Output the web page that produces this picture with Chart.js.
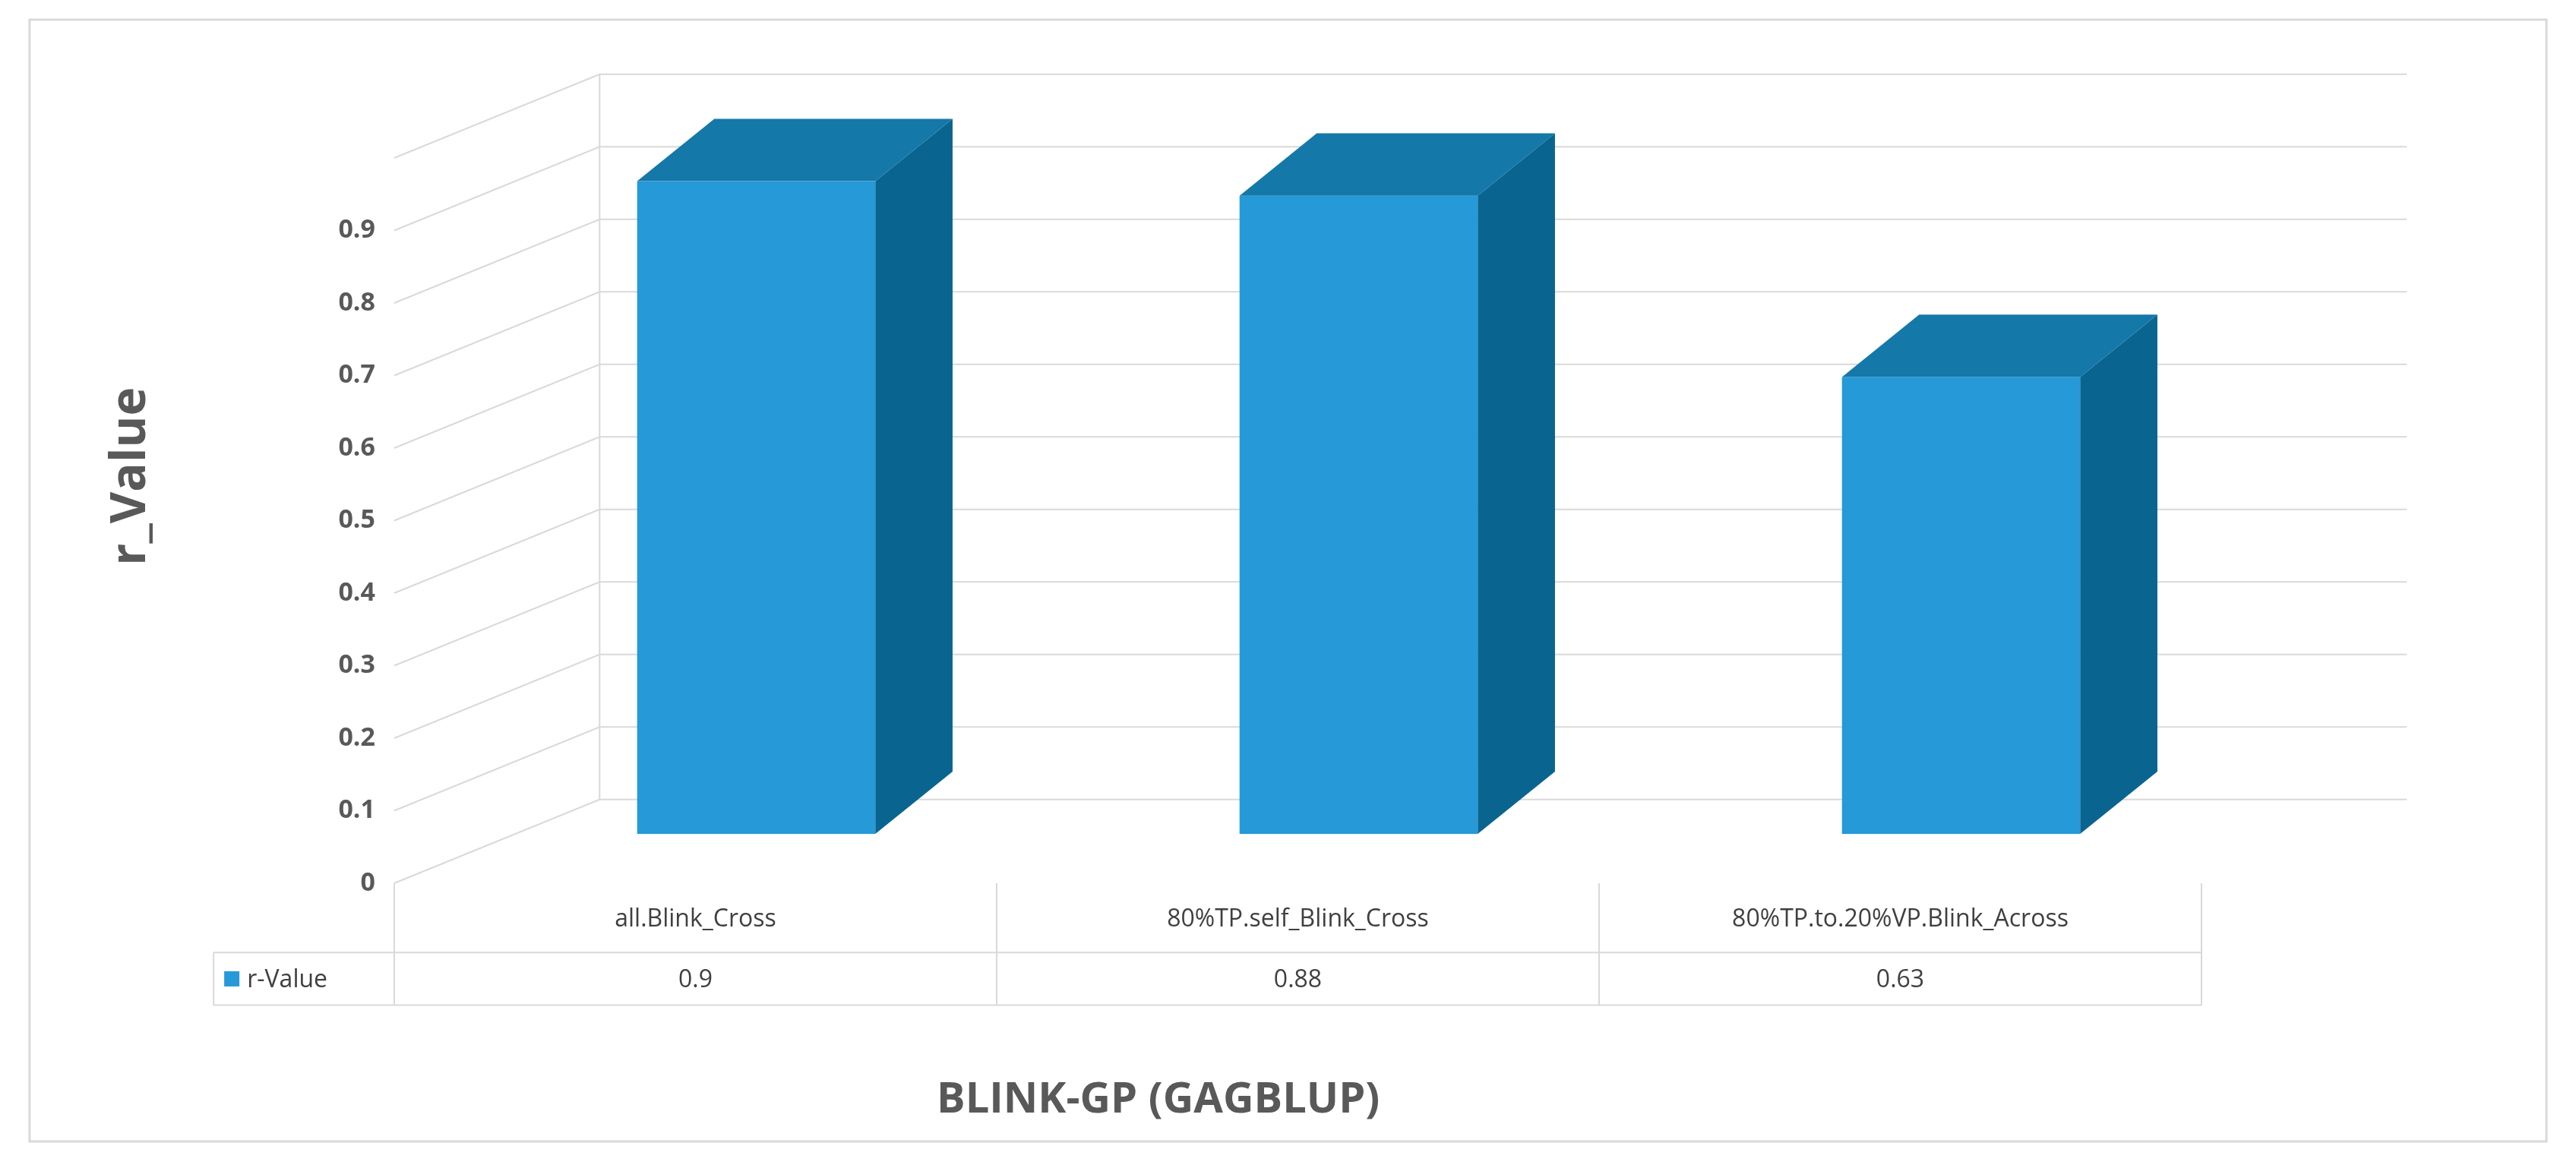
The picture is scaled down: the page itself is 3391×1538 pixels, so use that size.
<!DOCTYPE html>
<html><head><meta charset="utf-8">
<script src="https://cdn.jsdelivr.net/npm/chart.js@4/dist/chart.umd.min.js"></script>
<style>html,body{margin:0;padding:0;background:#fff}canvas{display:block}</style>
</head><body>
<canvas id="c" width="3391" height="1538"></canvas>
<script>
const categories = ["all.Blink_Cross", "80%TP.self_Blink_Cross", "80%TP.to.20%VP.Blink_Across"];
const rValues = [0.9, 0.88, 0.63];
const yTicks = [0,0.1,0.2,0.3,0.4,0.5,0.6,0.7,0.8,0.9];
const seriesName = "r-Value";
const valueLabels = ["0.9", "0.88", "0.63"];

const S = 3391/1568;
const FONT = '"Open Sans", "Liberation Sans", sans-serif';
const plugin = {
  id: 'excel3d',
  beforeDatasetsDraw(chart) {
    const ctx = chart.ctx, xs = chart.scales.x, ys = chart.scales.y, ca = chart.chartArea;
    const bx = 125*S, by = 51*S;
    ctx.save();
    ctx.strokeStyle = '#d9d9d9'; ctx.lineWidth = 2;
    for (let i = 0; i <= 10; i++) {
      const v = i/10, y = ys.getPixelForValue(v);
      ctx.beginPath();
      ctx.moveTo(ca.left, y); ctx.lineTo(ca.left+bx, y-by); ctx.lineTo(ca.right+bx*0.25+ (bx*0.75), y-by);
      ctx.stroke();
    }
    ctx.beginPath(); ctx.moveTo(ca.left+bx, ys.getPixelForValue(0)-by); ctx.lineTo(ca.left+bx, ys.getPixelForValue(1)-by); ctx.stroke();
    // y tick labels
    ctx.fillStyle = '#595959'; ctx.font = 'bold 34px '+FONT; ctx.textAlign='right'; ctx.textBaseline='middle';
    yTicks.forEach(t => ctx.fillText(String(t), ca.left-25, ys.getPixelForValue(t)));
    // data table
    const top = ca.bottom, mid = 580*S, bot = 612*S, leftCell = 130*S;
    ctx.strokeStyle = '#d9d9d9';
    ctx.beginPath();
    const bounds = [ca.left];
    categories.forEach((c,i)=>bounds.push(ca.left + (ca.right-ca.left)*(i+1)/categories.length));
    bounds.forEach(x=>{ctx.moveTo(x, top); ctx.lineTo(x, bot);});
    ctx.moveTo(leftCell, mid); ctx.lineTo(ca.right, mid);
    ctx.moveTo(leftCell, bot); ctx.lineTo(ca.right, bot);
    ctx.moveTo(leftCell, mid); ctx.lineTo(leftCell, bot);
    ctx.stroke();
    ctx.fillStyle = '#404040'; ctx.textAlign='center'; ctx.font = '32px '+FONT;
    categories.forEach((c,i)=>{
      const x = xs.getPixelForValue(i);
      ctx.fillText(c, x, (top+mid)/2+2);
      ctx.fillText(valueLabels[i], x, (mid+bot)/2+2);
    });
    ctx.fillStyle = '#2699D8'; ctx.fillRect(leftCell+14, (mid+bot)/2-10, 20, 20);
    ctx.fillStyle = '#404040'; ctx.textAlign='left'; ctx.fillText(seriesName, leftCell+44, (mid+bot)/2+2);
    // titles
    ctx.fillStyle = '#595959'; ctx.font = 'bold 56px '+FONT; ctx.textAlign='center';
    ctx.fillText('BLINK-GP (GAGBLUP)', 705*S, 670*S);
    ctx.save(); ctx.translate(80*S, 290*S); ctx.rotate(-Math.PI/2);
    ctx.font = 'bold 64px '+FONT; ctx.fillText('r_Value', 0, 0); ctx.restore();
    // border
    ctx.strokeStyle = '#d9d9d9'; ctx.lineWidth = 3; ctx.strokeRect(18*S, 12*S, 1532*S, 683*S);
    ctx.restore();
  },
  afterDatasetsDraw(chart) {
    const ctx = chart.ctx, xs = chart.scales.x, ys = chart.scales.y;
    const ox = 37*S, oy = 30*S, w = 145*S, dx = 47*S, dy = 38*S;
    ctx.save();
    rValues.forEach((v,i)=>{
      const cx = xs.getPixelForValue(i)+ox;
      const l = cx-w/2, r = cx+w/2, t = ys.getPixelForValue(v)-oy, b = ys.getPixelForValue(0)-oy;
      ctx.fillStyle = '#2699D8'; ctx.fillRect(l, t, w, b-t);
      ctx.fillStyle = '#0A6490';
      ctx.beginPath(); ctx.moveTo(r,t); ctx.lineTo(r+dx,t-dy); ctx.lineTo(r+dx,b-dy); ctx.lineTo(r,b); ctx.closePath(); ctx.fill();
      ctx.fillStyle = '#1478A8';
      ctx.beginPath(); ctx.moveTo(l,t); ctx.lineTo(l+dx,t-dy); ctx.lineTo(r+dx,t-dy); ctx.lineTo(r,t); ctx.closePath(); ctx.fill();
    });
    ctx.restore();
  }
};
new Chart(document.getElementById('c'), {
  type: 'bar',
  data: { labels: categories, datasets: [{ label: seriesName, data: rValues, backgroundColor: 'rgba(0,0,0,0)' }] },
  options: {
    responsive: false, animation: false, devicePixelRatio: 1,
    layout: { padding: { left: 519, right: 3391-2898, top: 208, bottom: 1538-1163 } },
    plugins: { legend: { display: false }, tooltip: { enabled: false } },
    scales: {
      x: { display: false, offset: true },
      y: { display: false, min: 0, max: 1 }
    }
  },
  plugins: [plugin]
});
</script>
</body></html>
